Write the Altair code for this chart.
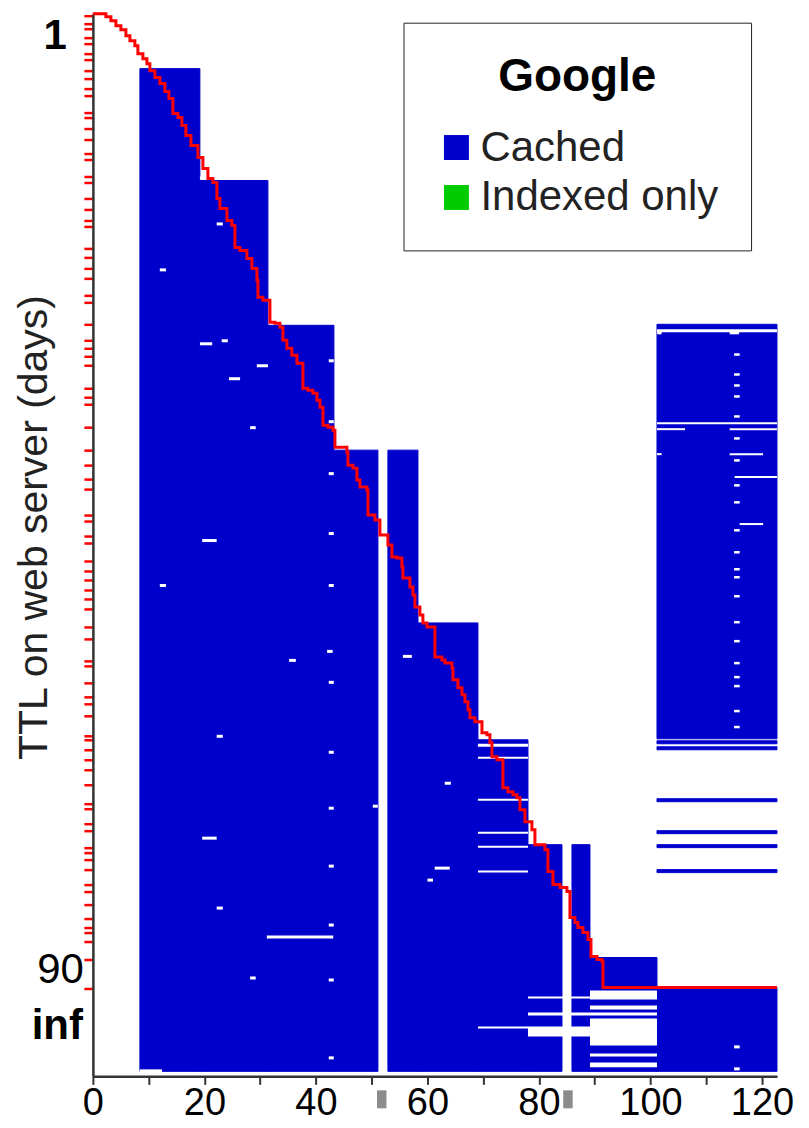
import altair as alt
import pandas as pd

# ---------------- data (x = day of experiment, y = page row, 0 = top) ----------------
# cached (blue) blocks
block_start = [8.43, 19.19, 31.39, 43.23, 52.91, 58.30, 69.06, 78.03, 85.92, 89.15, 101.17, 101.17]
block_end = [19.19, 31.39, 43.23, 51.12, 58.30, 69.06, 78.03, 84.13, 89.15, 101.17, 122.69, 122.69]
block_top = [55, 167, 312, 437, 437, 610, 727, 832, 832, 945, 975, 311]
block_bottom = [1059, 1059, 1059, 1059, 1059, 1059, 1059, 1059, 1059, 1059, 1059, 726]

# single cached rows at the right (below the big right block)
line_top = [728, 734, 786, 818, 832, 857]

# white gaps (not cached)
gap_x1 = [19.2, 22.2, 12.0, 19.2, 23.1, 29.4, 24.4, 42.3, 28.2, 42.3, 42.3, 42.3, 19.6, 42.3, 12.0,
          55.6, 35.2, 42.0, 42.3, 22.2, 42.3, 63.1, 50.2, 42.3, 19.6, 42.3, 61.3, 60.0, 22.2, 42.3,
          31.2, 28.2, 42.3, 42.3, 8.4,
          69.06, 69.06, 69.06, 69.06, 69.06, 69.06,
          89.15, 89.15, 78.03, 89.15, 89.15, 89.15, 78.03, 69.06, 78.03, 115.0, 115.0,
          101.17, 101.2, 114.2, 101.17, 101.17, 114.2, 101.17, 114.2, 115.1, 116.0]
gap_x2 = [20.6, 23.3, 13.1, 21.4, 24.2, 31.4, 26.4, 43.2, 29.2, 43.2, 43.2, 43.2, 22.2, 43.2, 13.1,
          57.2, 36.4, 43.0, 43.2, 23.3, 43.2, 64.2, 51.1, 43.2, 22.2, 43.2, 64.0, 61.0, 23.3, 43.2,
          43.1, 29.2, 43.2, 43.2, 12.4,
          78.03, 78.03, 78.03, 78.03, 78.03, 78.03,
          101.17, 101.17, 101.17, 101.17, 101.17, 101.17, 89.15, 89.15, 89.15, 116.0, 116.0,
          122.69, 102.0, 115.9, 122.69, 106.2, 122.69, 102.0, 120.2, 122.69, 120.2]
gap_y1 = [163, 209, 255, 329, 326, 351, 364, 346, 413, 407, 459, 519, 526, 571, 571,
          642, 646, 637, 668, 722, 738, 769, 792, 794, 824, 852, 854, 866, 894, 911,
          923, 964, 966, 1044, 1057,
          731, 744, 786, 819, 833, 858,
          978, 993, 1000, 1006, 1041, 1050, 984, 1014, 1015, 1033, 1055,
          316, 318, 318, 409, 415, 415, 440, 440, 463, 510]
gap_y2 = [166, 212, 258, 332, 329, 354, 367, 349, 416, 410, 462, 522, 529, 574, 574,
          645, 649, 640, 671, 725, 741, 772, 795, 797, 827, 855, 857, 869, 897, 914,
          926, 967, 969, 1047, 1060,
          734, 746, 788, 821, 835, 860,
          987, 997, 1003, 1033, 1044, 1055, 986, 1016, 1024, 1036, 1058,
          319, 321, 321, 411, 417, 417, 442, 442, 465, 512]

# rows with a one-day gap on day ~115.5 in the right block
dot_rows = [341, 361, 372, 383, 403, 425, 447, 472, 489, 517, 539, 556, 564, 583, 609, 628,
            650, 664, 673, 698, 714]
dot_day = 115.5

# TTL curve (page removed from web server), step line
ttl_day = [0, 2.33, 3.23, 4.13, 5.02, 5.92, 6.64, 7.53, 8.07, 8.97, 9.69, 10.22, 11.12, 12.02,
           12.91, 13.63, 14.35, 15.25, 15.96, 16.68, 17.58, 18.83, 19.73, 20.63, 21.52, 22.24,
           22.78, 24.04, 24.93, 25.47, 26.37, 27.62, 28.52, 29.42, 29.60, 30.49, 31.75, 32.65,
           33.54, 34.08, 34.80, 35.69, 36.59, 37.67, 38.56, 39.46, 40.18, 40.72, 41.26, 42.15,
           43.05, 43.41, 45.56, 45.74, 46.64, 47.35, 47.89, 49.15, 49.33, 50.58, 51.48, 52.91,
           53.63, 54.53, 55.42, 55.60, 56.86, 57.40, 57.76, 58.65, 59.19, 59.91, 61.34, 62.60,
           63.14, 64.39, 64.57, 65.47, 66.19, 66.73, 67.26, 67.62, 68.52, 69.78, 70.67, 71.21,
           71.57, 72.47, 73.54, 74.44, 75.34, 76.05, 76.59, 77.49, 78.74, 79.28, 81.08, 81.61,
           82.51, 83.77, 85.02, 85.56, 86.46, 86.99, 87.89, 88.79, 89.33, 90.40, 91.30, 91.48,
           122.69]
ttl_row = [0, 3, 7, 12, 16, 22, 27, 32, 40, 45, 50, 57, 64, 70, 78, 85, 100, 104, 112, 122, 132,
           144, 155, 165, 169, 185, 195, 207, 212, 234, 237, 245, 255, 267, 284, 287, 309, 310,
           314, 327, 335, 342, 350, 375, 377, 380, 387, 394, 412, 414, 417, 434, 439, 452, 455,
           467, 474, 477, 502, 507, 522, 532, 544, 545, 554, 565, 574, 582, 594, 602, 610, 614,
           644, 647, 650, 655, 667, 675, 682, 689, 697, 705, 709, 720, 722, 730, 744, 747, 775,
           779, 782, 785, 797, 809, 817, 832, 837, 859, 872, 875, 879, 905, 910, 915, 920, 927,
           944, 947, 949, 975, 975]

# rows marked on the y axis (individual pages)
tick_rows = [2, 10, 15, 24, 30, 40, 46, 57, 65, 75, 82, 99, 104, 115, 126, 140, 146, 163, 169, 185,
             196, 207, 213, 235, 244, 255, 265, 282, 289, 311, 327, 335, 343, 352, 375, 384, 391,
             414, 437, 452, 466, 476, 502, 508, 523, 530, 548, 558, 567, 577, 586, 596, 614, 626,
             648, 653, 670, 684, 691, 703, 723, 727, 737, 747, 757, 772, 791, 796, 811, 818, 835,
             840, 847, 857, 872, 879, 892, 906, 915, 920, 929, 947, 976]

# y axis labels
ylab_text = ["1", "90", "inf"]
ylab_row = [22, 958, 1014]

# days with no crawl data
missing_days = [51.8, 85.2]

# legend
legend_labels = ["Cached", "Indexed only"]
legend_colors = ["#0000cc", "#00cc00"]

# ---------------- tables ----------------
blocks = pd.DataFrame({"start": block_start, "end": block_end, "top": block_top,
                       "bottom": block_bottom})
lines = pd.DataFrame({"start": [101.17] * len(line_top), "end": [122.69] * len(line_top),
                      "top": line_top, "bottom": [t + 3 for t in line_top]})
cached = pd.concat([blocks, lines], ignore_index=True)
cached["status"] = "Cached"

gaps = pd.DataFrame({"x1": gap_x1, "x2": gap_x2, "y1": gap_y1, "y2": gap_y2})
dots = pd.DataFrame({"row": dot_rows, "day": [dot_day] * len(dot_rows)})
ttl = pd.DataFrame({"day": ttl_day, "row": ttl_row, "i": range(len(ttl_day))})
ylabs = pd.DataFrame({"text": ylab_text, "row": ylab_row})
missing = pd.DataFrame({"day": missing_days})

FONT = "Liberation Sans"
BLUE = legend_colors[0]

x_scale = alt.Scale(domain=[0, 122.7], nice=False, zero=False)
y_scale = alt.Scale(domain=[0, 1064], nice=False, zero=False, reverse=True)

x_axis = alt.Axis(values=list(range(0, 121, 10)),
                  labelExpr="datum.value % 20 === 0 ? datum.label : ''",
                  title=None, grid=False, domainColor="#333", domainWidth=2.5,
                  tickColor="#333", tickSize=8, tickWidth=2, labelFontSize=38,
                  labelColor="black", labelFont=FONT, labelPadding=0,
                  labelFlush=False, labelOverlap=False, labelBound=False)
y_axis = alt.Axis(values=tick_rows, labels=False, grid=False, tickColor="#ff0000",
                  tickSize=9, tickWidth=2.5, domainColor="#333", domainWidth=2.5,
                  title="TTL on web server (days)", titleFontSize=41,
                  titleFontWeight="normal", titleColor="#222", titleFont=FONT,
                  titleX=-37, titleY=514)

legend = alt.Legend(title="Google", orient="none", legendX=311, legendY=9, direction="vertical",
                    padding=32, strokeColor="#222", fillColor="white",
                    titleFontSize=46, titleFontWeight="bold", titleColor="black",
                    titleFont=FONT, titleAnchor="middle", titlePadding=26, titleLimit=400,
                    labelFontSize=42, labelColor="#222", labelFont=FONT, labelOffset=3,
                    labelLimit=400, rowPadding=8, symbolType="square", symbolSize=625,
                    symbolStrokeWidth=0, symbolOpacity=1)

cached_layer = alt.Chart(cached).mark_rect(stroke=BLUE, strokeWidth=1).encode(
    x=alt.X("start:Q", scale=x_scale, axis=x_axis),
    x2="end:Q",
    y=alt.Y("top:Q", scale=y_scale, axis=y_axis),
    y2="bottom:Q",
    color=alt.Color("status:N", scale=alt.Scale(domain=legend_labels, range=legend_colors),
                    legend=legend),
)

gap_layer = alt.Chart(gaps).mark_rect(color="white", strokeWidth=0).encode(
    x=alt.X("x1:Q", scale=x_scale, axis=x_axis), x2="x2:Q",
    y=alt.Y("y1:Q", scale=y_scale, axis=y_axis), y2="y2:Q",
)

dot_layer = alt.Chart(dots).transform_calculate(
    x1="datum.day - 0.5", x2="datum.day + 0.5", y1="datum.row - 1", y2="datum.row + 1.5"
).mark_rect(color="white", strokeWidth=0).encode(
    x=alt.X("x1:Q", scale=x_scale, axis=x_axis), x2="x2:Q",
    y=alt.Y("y1:Q", scale=y_scale, axis=y_axis), y2="y2:Q",
)

ttl_layer = alt.Chart(ttl).mark_line(interpolate="step-after", color="#ff0000",
                                     strokeWidth=3).encode(
    x=alt.X("day:Q", scale=x_scale, axis=x_axis),
    y=alt.Y("row:Q", scale=y_scale, axis=y_axis),
    order="i:Q",
)

missing_layer = alt.Chart(missing).transform_calculate(
    x1="datum.day - 0.85", x2="datum.day + 0.85"
).mark_rect(color="#8c8c8c").encode(
    x=alt.X("x1:Q", scale=x_scale, axis=x_axis), x2="x2:Q",
    y=alt.value(1078), y2=alt.value(1096),
)

label_layers = []
for txt, dx, weight in [("1", -26, "bold"), ("90", -9, "normal"), ("inf", -10, "bold")]:
    label_layers.append(
        alt.Chart(ylabs).transform_filter(alt.datum.text == txt).mark_text(
            align="right", baseline="middle", fontSize=42, fontWeight=weight, font=FONT,
            color="black", dx=dx
        ).encode(
            x=alt.value(0),
            y=alt.Y("row:Q", scale=y_scale, axis=y_axis),
            text="text:N",
        )
    )

chart = alt.layer(
    cached_layer, gap_layer, dot_layer, ttl_layer, missing_layer, *label_layers
).properties(
    width=685, height=1064, autosize="none",
    padding={"left": 85, "top": 5, "right": 24, "bottom": 51},
).configure(font=FONT, view=alt.ViewConfig(stroke=None))

chart.save("out.html", embed_options={"renderer": "svg", "actions": False})
